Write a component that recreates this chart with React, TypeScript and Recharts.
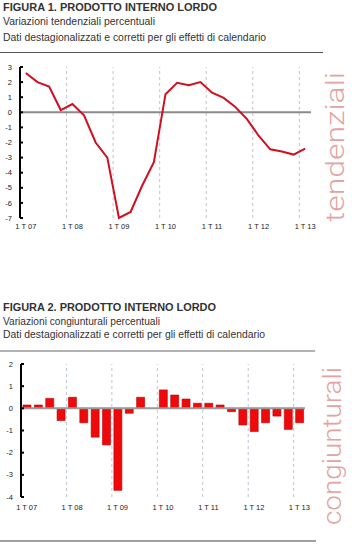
import React from 'react'
import { LineChart, Line, BarChart, Bar, XAxis, YAxis, ReferenceLine } from 'recharts'

// quarters 1T07 .. 1T13
const quarters = [
  '1T07', '2T07', '3T07', '4T07',
  '1T08', '2T08', '3T08', '4T08',
  '1T09', '2T09', '3T09', '4T09',
  '1T10', '2T10', '3T10', '4T10',
  '1T11', '2T11', '3T11', '4T11',
  '1T12', '2T12', '3T12', '4T12',
  '1T13',
]

const tendenziali = [
  2.6, 2.0, 1.7, 0.15,
  0.55, -0.2, -2.0, -3.0,
  -7.0, -6.6, -4.85, -3.3,
  1.2, 1.95, 1.8, 2.0,
  1.3, 0.95, 0.35, -0.45,
  -1.55, -2.45, -2.6, -2.8,
  -2.4,
]

const congiunturali = [
  0.15, 0.15, 0.45, -0.55,
  0.5, -0.65, -1.3, -1.65,
  -3.7, -0.22, 0.5, 0.0,
  0.83, 0.6, 0.42, 0.23,
  0.23, 0.15, -0.15, -0.75,
  -1.05, -0.65, -0.35, -0.95,
  -0.65,
]

const xTicks = [0, 4, 8, 12, 16, 20, 24]
const xTickLabels = ['1 T 07', '1 T 08', '1 T 09', '1 T 10', '1 T 11', '1 T 12', '1 T 13']
const yearBounds = [3.5, 7.5, 11.5, 15.5, 19.5, 23.5]
const yTicks1 = [3, 2, 1, 0, -1, -2, -3, -4, -5, -6, -7]
const yTicks2 = [2, 1, 0, -1, -2, -3, -4]

const data1 = quarters.map((q, i) => ({ i, q, v: tendenziali[i] }))
const data2 = quarters.map((q, i) => ({ i, q, v: congiunturali[i] }))

const FONT = 'Arial, "Liberation Sans", Helvetica, sans-serif'
const tickStyle = { fontSize: 7.5, fontFamily: FONT, fill: '#222' }
const fmtX = (v: number) => xTickLabels[Math.round(v / 4)] ?? ''

const Heading = ({ y, lines }: { y: number[]; lines: { t: string; len: number; bold?: boolean }[] }) => (
  <>
    {lines.map((l, k) => (
      <text
        key={k}
        x={3}
        y={y[k]}
        fontFamily={FONT}
        fontSize={11.3}
        fontWeight={l.bold ? 700 : 400}
        fill="#333"
        textLength={l.len}
        lengthAdjust="spacingAndGlyphs"
      >
        {l.t}
      </text>
    ))}
  </>
)

export default function App() {
  return (
    <div style={{ position: 'absolute', left: 0, top: 0, width: 352, height: 554, background: '#fff', overflow: 'hidden' }}>
      <svg width={352} height={554} style={{ position: 'absolute', left: 0, top: 0 }}>
        <Heading
          y={[11, 25, 40.5]}
          lines={[
            { t: 'FIGURA 1. PRODOTTO INTERNO LORDO', len: 214, bold: true },
            { t: 'Variazioni tendenziali percentuali', len: 152 },
            { t: 'Dati destagionalizzati e corretti per gli effetti di calendario', len: 263 },
          ]}
        />
        <line x1={0} x2={323} y1={52.5} y2={52.5} stroke="#555" strokeWidth={1.2} />
        <Heading
          y={[310.7, 325, 337.5]}
          lines={[
            { t: 'FIGURA 2. PRODOTTO INTERNO LORDO', len: 213, bold: true },
            { t: 'Variazioni congiunturali percentuali', len: 157 },
            { t: 'Dati destagionalizzati e corretti per gli effetti di calendario', len: 262 },
          ]}
        />
        <line x1={0} x2={315} y1={351} y2={351} stroke="#666" strokeWidth={1.2} />
        <line x1={0} x2={316} y1={541} y2={541} stroke="#a0a0a0" strokeWidth={2} />
        <text
          transform="translate(344,222) rotate(-90)"
          fontFamily='Roboto, Lato, "Open Sans", sans-serif'
          fontWeight={300}
          fontSize={26}
          fill="#e3a3a3"
          textLength={150}
          lengthAdjust="spacingAndGlyphs"
        >
          tendenziali
        </text>
        <text
          transform="translate(341,525) rotate(-90)"
          fontFamily='Roboto, Lato, "Open Sans", sans-serif'
          fontWeight={300}
          fontSize={26}
          fill="#e3a3a3"
          textLength={158}
          lengthAdjust="spacingAndGlyphs"
        >
          congiunturali
        </text>
      </svg>

      <div style={{ position: 'absolute', left: 0, top: 57 }}>
        <LineChart width={320} height={182} data={data1} margin={{ top: 10, right: 9, left: 0, bottom: 0 }}>
          <XAxis
            dataKey="i"
            type="number"
            domain={[-0.5, 24.5]}
            ticks={xTicks}
            interval={0}
            tickFormatter={fmtX}
            axisLine={false}
            tickLine={false}
            tickSize={0}
            tickMargin={6}
            height={21}
            tick={tickStyle}
          />
          <YAxis
            type="number"
            domain={[-7, 3]}
            ticks={yTicks1}
            interval={0}
            width={20}
            axisLine={{ stroke: '#000', strokeWidth: 2 }}
            tickLine={{ stroke: '#000', strokeWidth: 2 }}
            tickSize={-3}
            tickMargin={11}
            tick={tickStyle}
          />
          {yearBounds.map(x => (
            <ReferenceLine key={x} x={x} stroke="#bcc4d2" strokeDasharray="3 3" strokeWidth={1} />
          ))}
          <ReferenceLine y={0} stroke="#8a8a8a" strokeWidth={2} />
          <Line type="linear" dataKey="v" stroke="#cf1020" strokeWidth={2} dot={false} isAnimationActive={false} />
        </LineChart>
      </div>

      <div style={{ position: 'absolute', left: 0, top: 354 }}>
        <BarChart width={320} height={164} data={data2} margin={{ top: 10, right: 15, left: 0, bottom: 0 }}>
          <XAxis
            dataKey="i"
            type="number"
            domain={[-0.5, 24.5]}
            ticks={xTicks}
            interval={0}
            tickFormatter={fmtX}
            axisLine={false}
            tickLine={false}
            tickSize={0}
            tickMargin={8}
            height={21}
            tick={tickStyle}
          />
          <YAxis
            type="number"
            domain={[-4, 2]}
            ticks={yTicks2}
            interval={0}
            width={21}
            axisLine={{ stroke: '#000', strokeWidth: 2 }}
            tickLine={{ stroke: '#000', strokeWidth: 2 }}
            tickSize={-3}
            tickMargin={11}
            tick={tickStyle}
          />
          {yearBounds.map(x => (
            <ReferenceLine key={x} x={x} stroke="#bcc4d2" strokeDasharray="3 3" strokeWidth={1} />
          ))}
          <Bar dataKey="v" barSize={8} fill="#ee0a0a" stroke="#b80000" strokeWidth={0.6} isAnimationActive={false} />
          <ReferenceLine y={0} stroke="#999" strokeWidth={2} />
        </BarChart>
      </div>
    </div>
  )
}
